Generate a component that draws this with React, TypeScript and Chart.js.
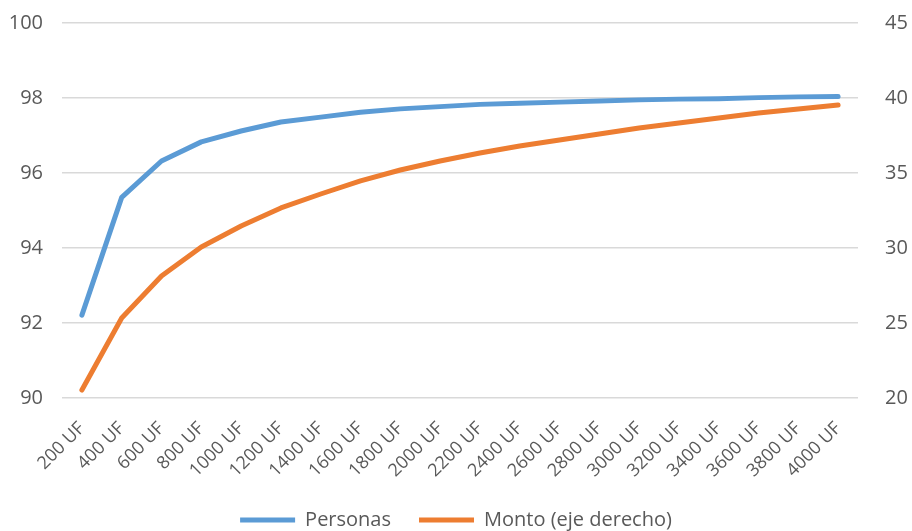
import React, { useEffect, useRef } from "react";
import { Chart, registerables } from "chart.js";

Chart.register(...registerables);

const categories = ["200 UF","400 UF","600 UF","800 UF","1000 UF","1200 UF","1400 UF","1600 UF","1800 UF","2000 UF","2200 UF","2400 UF","2600 UF","2800 UF","3000 UF","3200 UF","3400 UF","3600 UF","3800 UF","4000 UF"];
const personas = [92.21, 95.35, 96.32, 96.83, 97.12, 97.36, 97.49, 97.62, 97.71, 97.77, 97.83, 97.86, 97.89, 97.92, 97.95, 97.97, 97.98, 98.01, 98.03, 98.04];
const monto = [20.53, 25.33, 28.13, 30.07, 31.47, 32.67, 33.6, 34.47, 35.2, 35.8, 36.33, 36.8, 37.2, 37.6, 38.0, 38.33, 38.67, 39.0, 39.27, 39.53];
const labelPersonas = "Personas";
const labelMonto = "Monto (eje derecho)";

const FONT = "'Open Sans', 'Noto Sans', sans-serif";
const GREY = "#595959";

export default function App() {
  const ref = useRef<HTMLCanvasElement | null>(null);
  useEffect(() => {
    document.body.style.margin = "0";
    const ctx = ref.current!;
    const chart = new Chart(ctx, {
      type: "line",
      data: {
        labels: categories,
        datasets: [
          {
            label: labelPersonas,
            data: personas,
            borderColor: "#5B9BD5",
            backgroundColor: "#5B9BD5",
            borderWidth: 5,
            pointRadius: 0,
            borderCapStyle: "round",
            borderJoinStyle: "round",
            yAxisID: "y",
          },
          {
            label: labelMonto,
            data: monto,
            borderColor: "#ED7D31",
            backgroundColor: "#ED7D31",
            borderWidth: 5,
            pointRadius: 0,
            borderCapStyle: "round",
            borderJoinStyle: "round",
            yAxisID: "y1",
          },
        ],
      },
      options: {
        animation: false,
        responsive: false,
        layout: { padding: { left: 0, right: 0, top: 5, bottom: -9 } },
        plugins: {
          tooltip: { enabled: false },
          legend: {
            position: "bottom",
            labels: {
              color: GREY,
              font: { family: FONT, size: 20 },
              boxWidth: 55,
              boxHeight: 5,
              padding: 28,
              generateLabels: (c: any) =>
                c.data.datasets.map((d: any, i: number) => ({
                  text: d.label,
                  fillStyle: d.borderColor,
                  strokeStyle: d.borderColor,
                  lineWidth: 0,
                  hidden: false,
                  datasetIndex: i,
                  fontColor: GREY,
                })),
            },
          },
        },
        scales: {
          x: {
            offset: true,
            grid: { display: false },
            border: { display: false },
            afterFit: (s: any) => { s.height = 84; },
            ticks: {
              color: GREY,
              font: { family: FONT, size: 18 },
              maxRotation: 45,
              minRotation: 45,
              autoSkip: false,
              padding: 12,
            },
          },
          y: {
            position: "left",
            min: 90,
            max: 100,
            afterFit: (s: any) => { s.width = 62; },
            ticks: { stepSize: 2, color: GREY, font: { family: FONT, size: 20 }, padding: 11 },
            grid: { color: "#d9d9d9", lineWidth: 1.5, drawTicks: true, tickLength: 8, tickColor: "rgba(0,0,0,0)" },
            border: { display: false },
          },
          y1: {
            position: "right",
            min: 20,
            max: 45,
            afterFit: (s: any) => { s.width = 54; },
            ticks: { stepSize: 5, color: GREY, font: { family: FONT, size: 20 }, padding: 11 },
            grid: { display: false, tickLength: 16 },
            border: { display: false },
          },
        },
      },
    });
    return () => chart.destroy();
  }, []);
  return (
    <div style={{ width: 912, height: 531 }}>
      <canvas ref={ref} width={912} height={531} style={{ display: "block" }} />
    </div>
  );
}
